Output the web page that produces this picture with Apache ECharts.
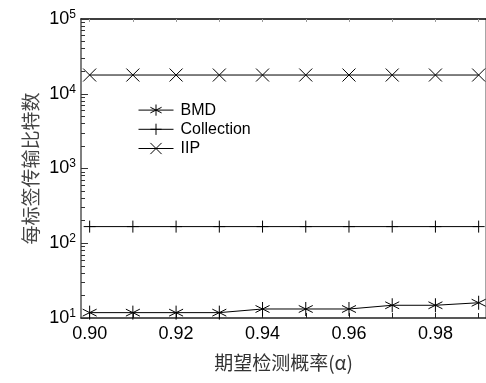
<!DOCTYPE html>
<html>
<head>
<meta charset="utf-8">
<script src="https://cdn.jsdelivr.net/npm/echarts@6/dist/echarts.min.js"></script>
<style>
  html, body { margin: 0; padding: 0; background: #fff; }
  #chart { width: 486px; height: 383px; }
</style>
</head>
<body>
<div id="chart"></div>
<script>
// 横轴：期望检测概率
const alphas = [0.90, 0.91, 0.92, 0.93, 0.94, 0.95, 0.96, 0.97, 0.98, 0.99]
const xLabels = [0.90, 0.92, 0.94, 0.96, 0.98]

// 每标签传输比特数
const bmd = [11.8, 11.8, 11.8, 11.8, 13.2, 13.2, 13.2, 14.8, 14.8, 16.0]
const collection = [167, 167, 167, 167, 167, 167, 167, 167, 167, 167]
const iip = [17800, 17800, 17800, 17800, 17800, 17800, 17800, 17800, 17800, 17800]

const yMajor = [10, 100, 1000, 10000, 100000]

// 对数轴的小刻度（以指数表示，画在辅助轴上）
const yMinorExp = []
for (let d = 1; d <= 4; d++) {
    for (let k = 2; k <= 9; k++) yMinorExp.push(d + Math.log10(k))
}
const yMajorExp = [1, 2, 3, 4, 5]

const font = 'Liberation Sans, Arial, sans-serif'
const cjk = '"Noto Sans CJK SC", sans-serif'

const pts = ys => alphas.map((a, i) => [a, ys[i]])

const mk = {
    star: 'path://M0,-7L0,7M-6,-3.5L6,3.5M-6,3.5L6,-3.5',
    plus: 'path://M-6,0L6,0M0,-6L0,6',
    cross: 'path://M-6,-6L6,6M-6,6L6,-6'
}

const lineSeries = (name, data, symbol, size) => ({
    name,
    type: 'line',
    data: pts(data),
    symbol,
    symbolSize: size,
    showAllSymbol: true,
    lineStyle: { color: '#000', width: 1 },
    itemStyle: { color: 'none', borderColor: '#000', borderWidth: 1 },
    emphasis: { disabled: true },
    animation: false
})

const chart = echarts.init(document.getElementById('chart'))

chart.setOption({
    animation: false,
    grid: { left: 81, right: 0, top: 19, bottom: 65, containLabel: false },
    legend: {
        orient: 'vertical',
        left: 133,
        top: 97,
        itemWidth: 35,
        itemHeight: 14,
        itemGap: 3,
        lineStyle: { width: 1, color: '#000' },
        itemStyle: { color: 'none', borderColor: '#000', borderWidth: 1 },
        textStyle: { fontFamily: font, fontSize: 16, lineHeight: 16, color: '#000', padding: [0, 0, 0, 2] },
        data: ['BMD', 'Collection', 'IIP']
    },
    xAxis: [{
        type: 'value',
        min: 0.898,
        max: 0.9917,
        name: '期望检测概率(α)',
        nameLocation: 'middle',
        nameGap: 35,
        nameTextStyle: { fontFamily: cjk, fontSize: 19, color: '#333' },
        axisLine: { lineStyle: { color: '#222', width: 1.5 } },
        axisTick: { inside: true, length: 5, customValues: alphas, lineStyle: { color: '#222' } },
        axisLabel: {
            customValues: xLabels,
            formatter: v => v.toFixed(2),
            fontFamily: font, fontSize: 18, color: '#000', margin: 7
        },
        splitLine: { show: false }
    }, {
        type: 'value',
        position: 'top',
        min: 0.898,
        max: 0.9917,
        axisLine: { show: true, lineStyle: { color: '#000', width: 1.5 } },
        axisTick: { inside: true, length: 3, customValues: alphas, lineStyle: { color: '#999' } },
        axisLabel: { show: false },
        splitLine: { show: false }
    }],
    yAxis: [{
        type: 'log',
        logBase: 10,
        min: 10,
        max: 100000,
        name: '每标签传输比特数',
        nameLocation: 'middle',
        nameRotate: 90,
        nameGap: 41,
        nameMoveOverlap: false,
        nameTextStyle: { fontFamily: cjk, fontSize: 19, color: '#444' },
        axisLine: { show: true, lineStyle: { color: '#555', width: 1.5 } },
        axisTick: { show: false },
        axisLabel: {
            customValues: yMajor,
            formatter: v => '{b|10}{s|' + Math.round(Math.log10(v)) + '}',
            rich: {
                b: { fontFamily: font, fontSize: 18, color: '#000' },
                s: { fontFamily: font, fontSize: 12, color: '#000', verticalAlign: 'top', padding: [0, 0, 9, 0] }
            },
            margin: 5
        },
        splitLine: { show: false }
    }, {
        type: 'log',
        logBase: 10,
        min: 10,
        max: 100000,
        position: 'right',
        axisLine: { show: true, lineStyle: { color: '#888', width: 1.5 } },
        axisTick: { show: false },
        axisLabel: { show: false },
        splitLine: { show: false }
    }, {
        // 辅助轴：只画刻度线
        type: 'value',
        min: 1,
        max: 5,
        position: 'left',
        offset: 0,
        axisLine: { show: false },
        axisTick: { show: true, inside: true, length: 4, customValues: yMinorExp, lineStyle: { color: '#333', width: 1 } },
        axisLabel: { show: false },
        splitLine: { show: false }
    }, {
        type: 'value',
        min: 1,
        max: 5,
        position: 'left',
        offset: 0,
        axisLine: { show: false },
        axisTick: { show: true, inside: true, length: 7, customValues: yMajorExp, lineStyle: { color: '#333', width: 1 } },
        axisLabel: { show: false },
        splitLine: { show: false }
    }],
    series: [
        lineSeries('BMD', bmd, mk.star, 14),
        lineSeries('Collection', collection, mk.plus, 12),
        lineSeries('IIP', iip, mk.cross, 13)
    ]
})
</script>
</body>
</html>
